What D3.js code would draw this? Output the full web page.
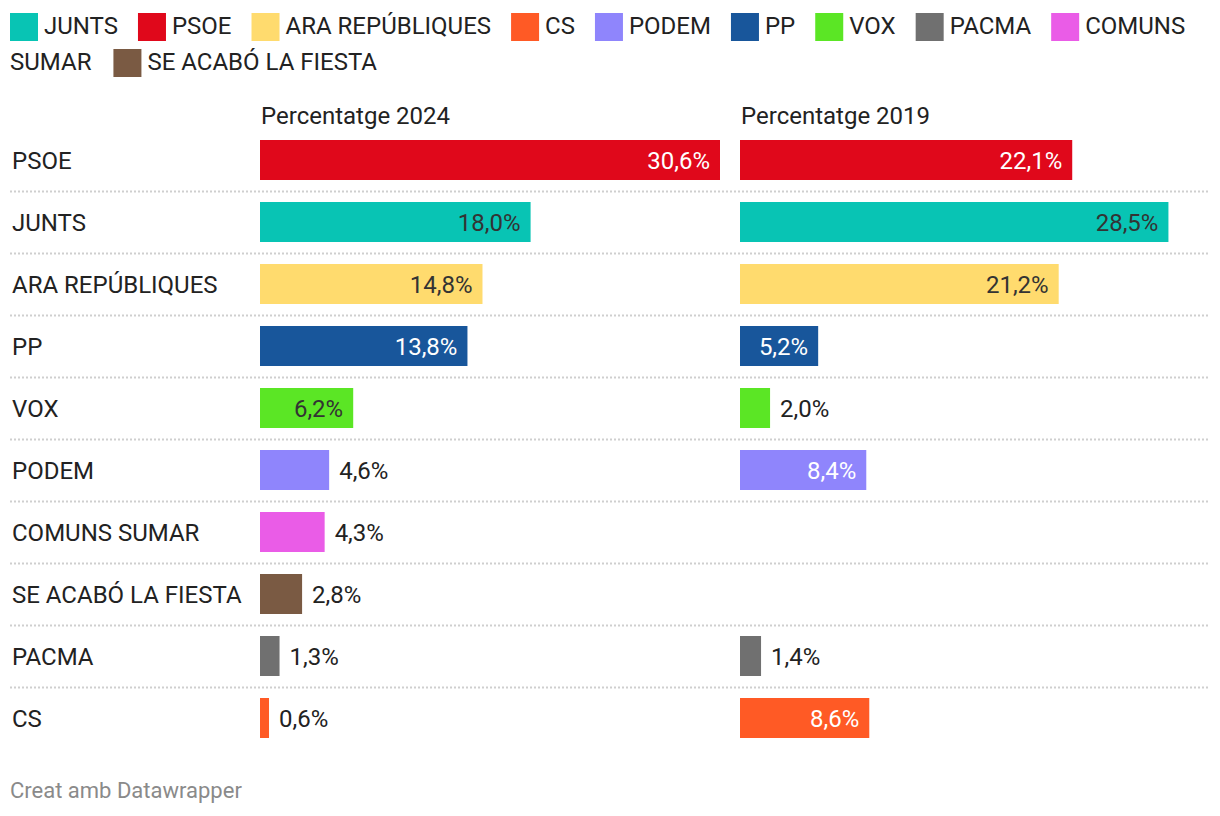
<!DOCTYPE html>
<html>
<head>
<meta charset="utf-8">
<script src="https://cdn.jsdelivr.net/npm/d3@7"></script>
<style>
  html, body { margin: 0; padding: 0; background: #fff; }
  svg { display: block; font-family: Roboto, "Noto Sans", sans-serif; }
</style>
</head>
<body>
<svg id="chart" width="1220" height="816"></svg>
<script>
// ---- data ----
const legendParties = ["JUNTS", "PSOE", "ARA REPÚBLIQUES", "CS", "PODEM", "PP", "VOX", "PACMA", "COMUNS SUMAR", "SE ACABÓ LA FIESTA"];
const legendColors  = ["#08c4b4", "#e0081b", "#ffdb6e", "#ff5a25", "#8f85fc", "#18569b", "#5be625", "#707070", "#ea5ce7", "#7a5a43"];
const rowParties = ["PSOE", "JUNTS", "ARA REPÚBLIQUES", "PP", "VOX", "PODEM", "COMUNS SUMAR", "SE ACABÓ LA FIESTA", "PACMA", "CS"];
const values2024 = [30.6, 18.0, 14.8, 13.8, 6.2, 4.6, 4.3, 2.8, 1.3, 0.6];
const values2019 = [22.1, 28.5, 21.2, 5.2, 2.0, 8.4, null, null, 1.4, 8.6];
const panelTitles = ["Percentatge 2024", "Percentatge 2019"];
const footerText = "Creat amb Datawrapper";

const colorOf = d3.scaleOrdinal().domain(legendParties).range(legendColors);
const svg = d3.select("#chart");
const FONT = 24;

// ---- legend (flow layout) ----
const legendG = svg.append("g");
const lineY = [34, 70];
let lx = 10, line = 0;
const maxX = 1212;
function measure(t, size) {
  const tmp = legendG.append("text").attr("font-size", size).text(t);
  const w = tmp.node().getComputedTextLength();
  tmp.remove();
  return w;
}
legendParties.forEach((p, i) => {
  const sq = 28, gapText = 6, gapItem = 20;
  let words = p.split(" ");
  if (lx + sq + gapText > maxX) { line++; lx = 10; }
  legendG.append("rect")
    .attr("x", lx).attr("y", lineY[line] - 21)
    .attr("width", sq).attr("height", sq)
    .attr("fill", colorOf(p));
  let tx = lx + sq + gapText;
  if (tx + measure(p, FONT) <= maxX) {
    legendG.append("text").attr("x", tx).attr("y", lineY[line])
      .attr("font-size", FONT).attr("fill", "#222").text(p);
    lx = tx + measure(p, FONT) + gapItem;
  } else {
    let cur = [];
    words.forEach(w => {
      const test = cur.concat([w]).join(" ");
      if (tx + measure(test, FONT) > maxX && cur.length) {
        legendG.append("text").attr("x", tx).attr("y", lineY[line])
          .attr("font-size", FONT).attr("fill", "#222").text(cur.join(" "));
        line++; tx = 10; cur = [w];
      } else cur.push(w);
    });
    legendG.append("text").attr("x", tx).attr("y", lineY[line])
      .attr("font-size", FONT).attr("fill", "#222").text(cur.join(" "));
    lx = tx + measure(cur.join(" "), FONT) + gapItem + 2;
  }
});

// ---- scales ----
const y = d3.scaleBand().domain(rowParties).range([129, 129 + 62 * rowParties.length]).paddingInner(0);
const barH = 40;
const x = d3.scaleLinear().domain([0, 30.6]).range([0, 460]);
const panelX = [260, 740];
const series = [values2024, values2019];

// separators
svg.append("g").selectAll("line")
  .data(rowParties.slice(0, -1))
  .join("line")
  .attr("x1", 10).attr("x2", 1208)
  .attr("y1", d => y(d) + y.bandwidth() + 0.5)
  .attr("y2", d => y(d) + y.bandwidth() + 0.5)
  .attr("stroke", "#cfcfcf").attr("stroke-width", 2)
  .attr("stroke-dasharray", "2,2");

// row labels
svg.append("g").selectAll("text")
  .data(rowParties)
  .join("text")
  .attr("x", 12)
  .attr("y", d => y(d) + 11 + barH / 2 + 8.5)
  .attr("font-size", FONT).attr("fill", "#222")
  .text(d => d);

// panels
const fmt = v => v.toFixed(1).replace(".", ",") + "%";
function textColor(c) { return d3.lab(c).l > 65 ? "#333" : "#fff"; }

series.forEach((vals, si) => {
  const g = svg.append("g").attr("transform", `translate(${panelX[si]},0)`);
  g.append("text").attr("x", 1).attr("y", 124)
    .attr("font-size", FONT).attr("fill", "#222").text(panelTitles[si]);
  const data = rowParties.map((p, i) => ({ p, v: vals[i] })).filter(d => d.v !== null);
  g.selectAll("rect").data(data).join("rect")
    .attr("x", x(0))
    .attr("y", d => y(d.p) + 11)
    .attr("width", d => x(d.v) - x(0))
    .attr("height", barH)
    .attr("fill", d => colorOf(d.p));
  g.selectAll("text.val").data(data).join("text")
    .attr("class", "val")
    .attr("font-size", FONT)
    .attr("y", d => y(d.p) + 11 + barH / 2 + 8.5)
    .each(function(d) {
      const inside = x(d.v) >= 75;
      d3.select(this)
        .attr("x", inside ? x(d.v) - 10 : x(d.v) + 10)
        .attr("text-anchor", inside ? "end" : "start")
        .attr("fill", inside ? textColor(colorOf(d.p)) : "#222");
    })
    .text(d => fmt(d.v));
});

// footer
svg.append("text").attr("x", 10).attr("y", 798)
  .attr("font-size", 22).attr("fill", "#8a8a8a").text(footerText);
</script>
</body>
</html>
